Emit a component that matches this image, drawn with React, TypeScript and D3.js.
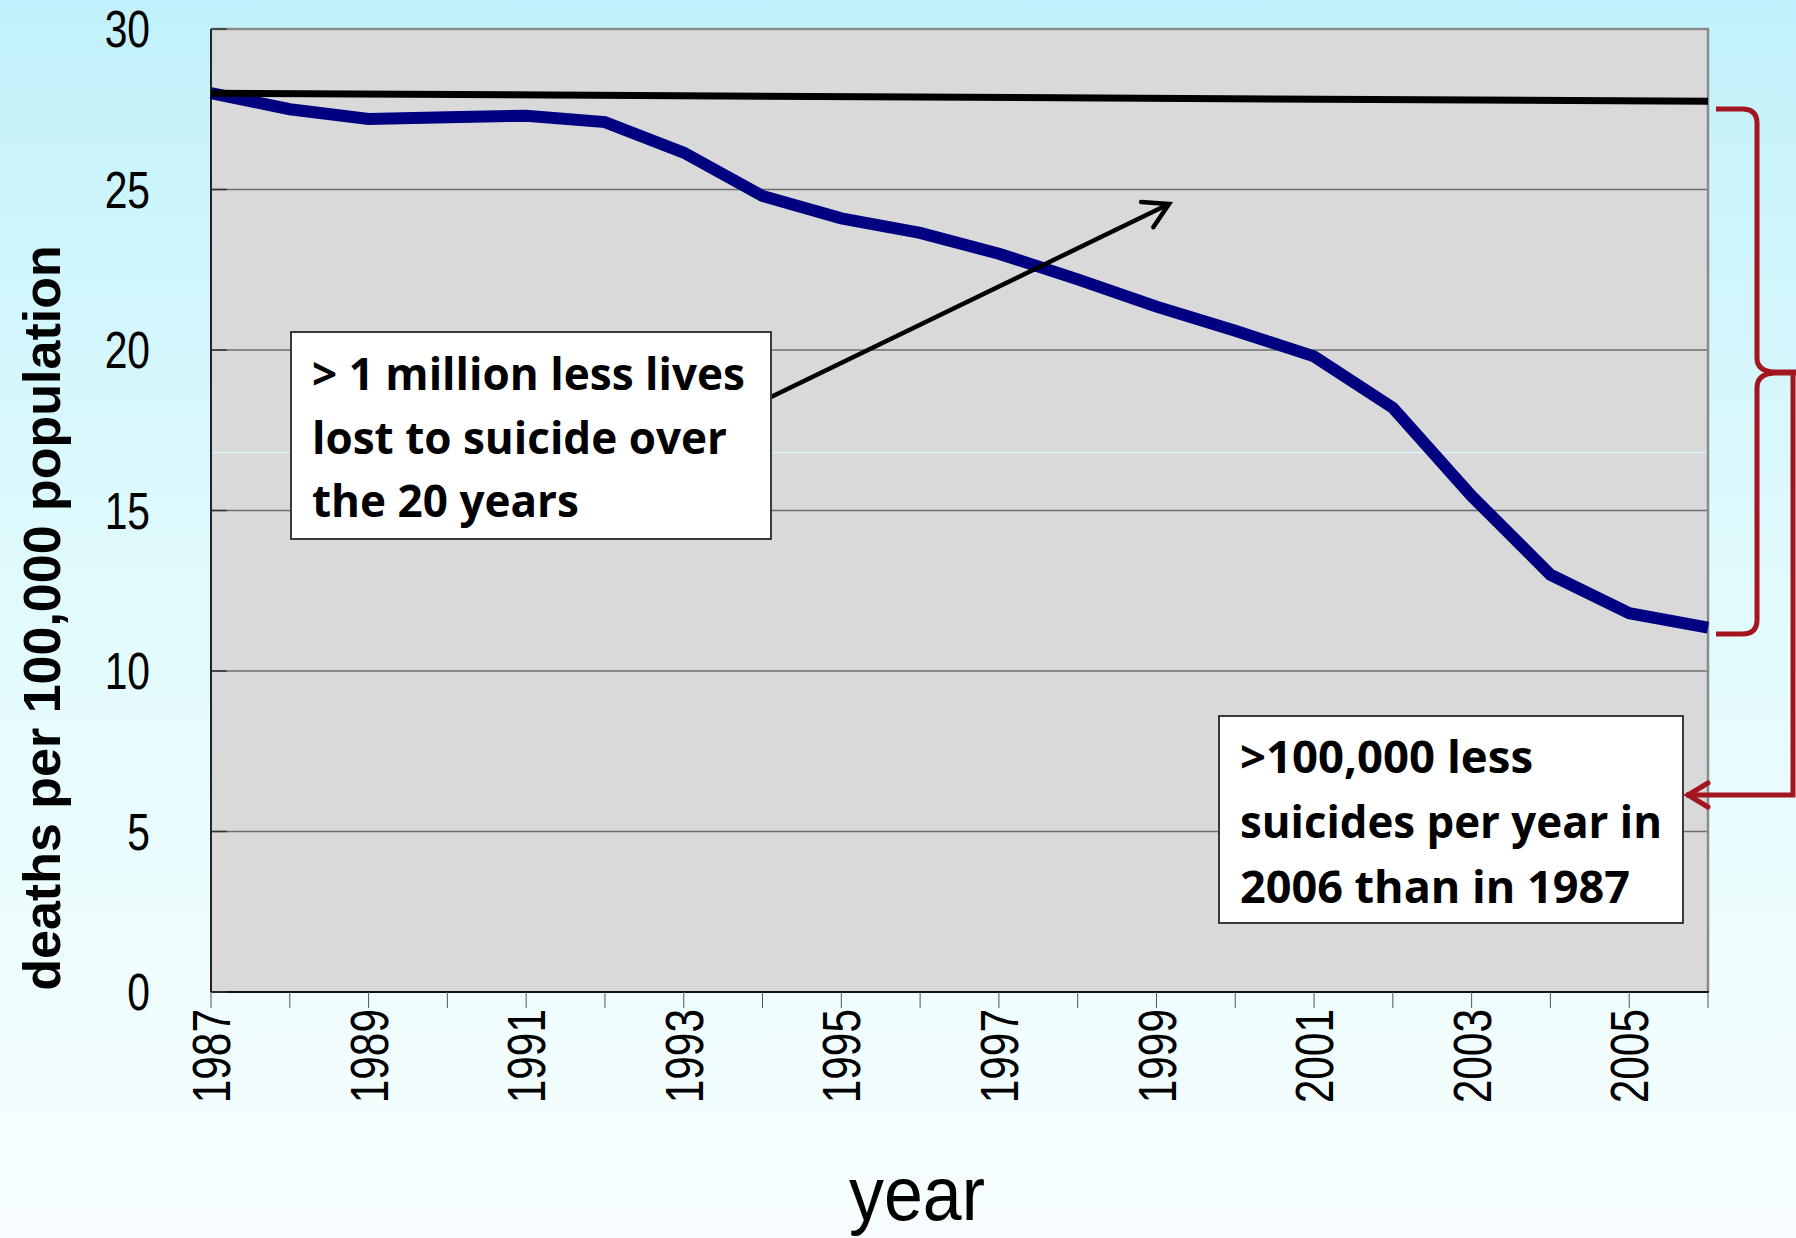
import React from "react";
import * as d3 from "d3";

// Suicide deaths per 100,000 population, by year
const years = [1987, 1988, 1989, 1990, 1991, 1992, 1993, 1994, 1995, 1996, 1997, 1998, 1999, 2000, 2001, 2002, 2003, 2004, 2005, 2006];
const deathRate = [28.0, 27.5, 27.2, 27.25, 27.3, 27.1, 26.15, 24.8, 24.1, 23.65, 23.0, 22.2, 21.35, 20.6, 19.8, 18.2, 15.45, 13.0, 11.8, 11.35];

// Reference level carried forward from 1987
const refYears = [1987, 2006];
const refRate = [28.0, 27.75];

const yTicks = [0, 5, 10, 15, 20, 25, 30];
const xLabelYears = [1987, 1989, 1991, 1993, 1995, 1997, 1999, 2001, 2003, 2005];

const noteLives = ["> 1 million less lives", "lost to suicide over", "the 20 years"];
const noteYear = [">100,000 less", "suicides per year in", "2006 than in 1987"];

const W = 1796;
const H = 1238;
const plot = { left: 211, right: 1708, top: 29, bottom: 992 };

const sans = "'Liberation Sans', Arial, sans-serif";
const noteFont = "'Open Sans', Lato, sans-serif";
const squeeze = 0.8; // condensed look for the tick labels

export default function App() {
  const x = d3.scaleLinear().domain([1987, 2006]).range([plot.left, plot.right]);
  const y = d3.scaleLinear().domain([0, 30]).range([plot.bottom, plot.top]);

  const line = d3
    .line<[number, number]>()
    .x((d) => x(d[0]))
    .y((d) => y(d[1]));

  const ratePath = line(years.map((yr, i) => [yr, deathRate[i]] as [number, number])) || "";
  const refPath = line(refYears.map((yr, i) => [yr, refRate[i]] as [number, number])) || "";

  // black arrow from the first note toward the gap between the lines
  const a0 = { x: 771, y: 397 };
  const a1 = { x: 1169, y: 204 };
  const ang = Math.atan2(a1.y - a0.y, a1.x - a0.x);
  const wing = 28;
  const w1 = { x: a1.x - wing * Math.cos(ang - Math.PI / 6), y: a1.y - wing * Math.sin(ang - Math.PI / 6) };
  const w2 = { x: a1.x - wing * Math.cos(ang + Math.PI / 6), y: a1.y - wing * Math.sin(ang + Math.PI / 6) };

  const red = "#a3161f";
  const braceX = 1757;
  const braceTop = 109;
  const braceTip = 372;
  const braceBot = 634;
  const bracePath =
    `M 1716 ${braceTop} H 1742 Q ${braceX} ${braceTop} ${braceX} ${braceTop + 14} ` +
    `V ${braceTip - 14} Q ${braceX} ${braceTip - 1} 1774 ${braceTip} H 1796 ` +
    `M 1796 ${braceTip + 1} H 1774 Q ${braceX} ${braceTip + 2} ${braceX} ${braceTip + 16} ` +
    `V ${braceBot - 14} Q ${braceX} ${braceBot} 1742 ${braceBot} H 1716`;
  const connY = 795;
  const connPath = `M 1793 ${braceTip + 2} V ${connY} H 1686`;

  return (
    <svg width={W} height={H} style={{ position: "absolute", left: 0, top: 0, display: "block" }}>
      <defs>
        <linearGradient id="bg" x1="0" y1="0" x2="0" y2="1">
          <stop offset="0" stopColor="#c2f1fb" />
          <stop offset="0.5" stopColor="#e2fbfd" />
          <stop offset="1" stopColor="#f8feff" />
        </linearGradient>
      </defs>
      <rect x={0} y={0} width={W} height={H} fill="url(#bg)" />

      {/* plot area */}
      <rect x={plot.left} y={plot.top} width={plot.right - plot.left} height={plot.bottom - plot.top} fill="#d9d9d9" />

      {/* gridlines */}
      {yTicks.filter((t) => t > 0 && t < 30).map((t) => (
        <line key={"g" + t} x1={plot.left} x2={plot.right} y1={y(t)} y2={y(t)} stroke="#6e6e6e" strokeWidth={1.3} />
      ))}
      <line x1={plot.left} x2={plot.right} y1={y(16.8)} y2={y(16.8)} stroke="#d6f6fa" strokeWidth={1.2} />

      {/* frame */}
      <line x1={plot.left} x2={plot.right + 1} y1={plot.top} y2={plot.top} stroke="#8a8a8a" strokeWidth={2.5} />
      <line x1={plot.right} x2={plot.right} y1={plot.top} y2={plot.bottom} stroke="#8a8a8a" strokeWidth={2.5} />
      <line x1={plot.left} x2={plot.left} y1={plot.top} y2={plot.bottom} stroke="#222" strokeWidth={2} />
      <line x1={plot.left} x2={plot.right + 1} y1={plot.bottom} y2={plot.bottom} stroke="#111" strokeWidth={2} />

      {/* y ticks and labels */}
      {yTicks.map((t) => (
        <g key={"y" + t}>
          <line x1={plot.left} x2={plot.left + 16} y1={y(t)} y2={y(t)} stroke="#333" strokeWidth={1.5} />
          <text
            transform={`translate(150,${y(t)}) scale(${squeeze},1)`}
            dy="0.36em"
            textAnchor="end"
            fontFamily={sans}
            fontSize={51}
            fill="#000"
          >
            {t}
          </text>
        </g>
      ))}

      {/* x ticks and labels */}
      {years.map((yr) => (
        <line key={"xt" + yr} x1={x(yr)} x2={x(yr)} y1={plot.bottom} y2={plot.bottom + 16} stroke="#555" strokeWidth={1} />
      ))}
      {xLabelYears.map((yr) => (
        <text
          key={"xl" + yr}
          transform={`translate(${x(yr)},${1009}) rotate(-90) scale(${squeeze},1)`}
          dy="0.36em"
          textAnchor="end"
          fontFamily={sans}
          fontSize={53}
          fill="#000"
        >
          {yr}
        </text>
      ))}

      {/* axis titles */}
      <text
        transform="translate(60,618) rotate(-90)"
        textAnchor="middle"
        fontFamily={sans}
        fontWeight="bold"
        fontSize={52}
        fill="#000"
      >
        deaths per 100,000 population
      </text>
      <text
        transform={`translate(917,1220) scale(0.92,1)`}
        textAnchor="middle"
        fontFamily={sans}
        fontSize={76}
        fill="#000"
      >
        year
      </text>

      {/* series */}
      <path d={ratePath} fill="none" stroke="#000080" strokeWidth={12} strokeLinejoin="miter" />
      <path d={refPath} fill="none" stroke="#000" strokeWidth={7} />

      {/* arrow */}
      <line x1={a0.x} y1={a0.y} x2={a1.x} y2={a1.y} stroke="#000" strokeWidth={4.5} />
      <polyline
        points={`${w1.x},${w1.y} ${a1.x},${a1.y} ${w2.x},${w2.y}`}
        fill="none"
        stroke="#000"
        strokeWidth={4.5}
        strokeLinecap="round"
      />

      {/* note 1 */}
      <rect x={291} y={332} width={480} height={207} fill="#fff" stroke="#3a3a3a" strokeWidth={2} />
      {noteLives.map((s, i) => (
        <text
          key={"n1" + i}
          x={312}
          y={390 + i * 63.5}
          fontFamily={noteFont}
          fontWeight={700}
          fontSize={44}
          textLength={[433, 415, 267][i]}
          lengthAdjust="spacingAndGlyphs"
          fill="#000"
        >
          {s}
        </text>
      ))}

      {/* bracket and red arrow */}
      <path d={bracePath} fill="none" stroke={red} strokeWidth={5} />
      <path d={connPath} fill="none" stroke={red} strokeWidth={5} />
      <polyline points={`1708,783 1688,${connY} 1708,807`} fill="none" stroke={red} strokeWidth={5} strokeLinecap="round" />

      {/* note 2 */}
      <rect x={1219} y={716} width={464} height={207} fill="#fff" stroke="#3a3a3a" strokeWidth={2} />
      {noteYear.map((s, i) => (
        <text
          key={"n2" + i}
          x={1240}
          y={773 + i * 65}
          fontFamily={noteFont}
          fontWeight={700}
          fontSize={44}
          textLength={[293, 422, 390][i]}
          lengthAdjust="spacingAndGlyphs"
          fill="#000"
        >
          {s}
        </text>
      ))}
    </svg>
  );
}
